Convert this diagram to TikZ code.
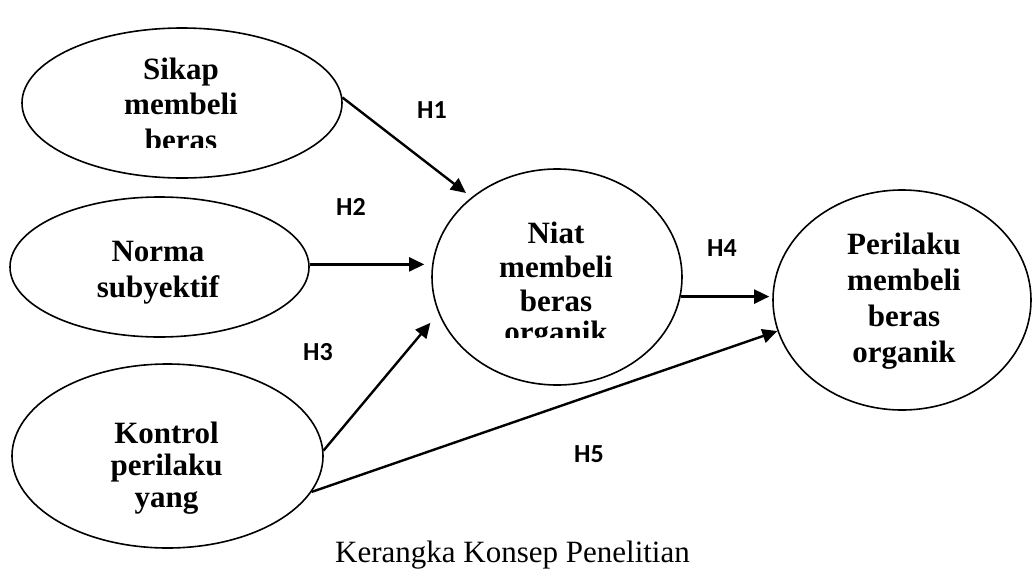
\documentclass[tikz,border=0pt]{standalone}
\usepackage{fontspec}
\setmainfont{Liberation Serif}
\newfontfamily\hfont{Carlito}
\usetikzlibrary{arrows.meta,shapes.geometric}
\begin{document}
\begin{tikzpicture}[x=1pt,y=-1pt,
  ell/.style={draw, ellipse, line width=1.6pt, inner sep=0pt},
  txt/.style={font=\bfseries\fontsize{31}{35}\selectfont, anchor=base, inner sep=0pt},
  hyp/.style={font=\hfont\bfseries\fontsize{26}{30}\selectfont, inner sep=0pt},
  arr/.style={line width=2.4pt, -{Triangle[length=15pt,width=14pt]}}]
\useasboundingbox (0,0) rectangle (1033,568);
% ellipses
\node[ell, minimum width=320pt, minimum height=150pt] (A) at (182,103) {};
\node[ell, minimum width=299pt, minimum height=140pt] (B) at (159.5,267) {};
\node[ell, minimum width=311pt, minimum height=184pt] (C) at (167.5,456) {};
\node[ell, minimum width=250pt, minimum height=216pt] (N) at (557,277) {};
\node[ell, minimum width=258pt, minimum height=220pt] (P) at (902,300) {};
% texts
\node[txt] (a1) at (181,79) {Sikap};
\node[txt] (a2) at (181,114) {membeli};
\begin{scope}
  \clip (90,120) rectangle (280,147);
  \node[txt] (a3) at (181,150) {beras};
\end{scope}
\node[txt] (b1) at (158,261) {Norma};
\node[txt] (b2) at (158,297) {subyektif};
\node[txt] (c1) at (166.5,443) {Kontrol};
\node[txt] (c2) at (166.5,475) {perilaku};
\node[txt] (c3) at (166.5,507) {yang};
\node[txt] (n1) at (556,243) {Niat};
\node[txt] (n2) at (556,277) {membeli};
\node[txt] (n3) at (556,311) {beras};
\begin{scope}
  \clip (460,315) rectangle (660,337);
  \node[txt] (n4) at (556,342) {organik};
\end{scope}
\node[txt] (p1) at (904,254) {Perilaku};
\node[txt] (p2) at (904,290) {membeli};
\node[txt] (p3) at (904,326) {beras};
\node[txt] (p4) at (904,362) {organik};
% arrows
\draw[arr, shorten >=7pt] (A.2) -- (N.137);
\draw[arr, shorten >=7pt] (B.1) -- (B.1 -| N.west);
\draw[arr, shorten >=12.5pt] (C.2) -- (N.197);
\draw[arr, shorten >=3pt] (N.-9.2) -- (N.-9.2 -| P.west);
\draw[arr] (C.-14.6) -- (P.194.6);
% labels
\node[hyp] (h1) at (432,110) {H1};
\node[hyp] (h2) at (351,207) {H2};
\node[hyp] (h3) at (318,352) {H3};
\node[hyp] (h4) at (722,248) {H4};
\node[hyp] (h5) at (589,454) {H5};
% caption
\node[font=\fontsize{31}{35}\selectfont, anchor=base, inner sep=0pt] (cap) at (512.5,562) {Kerangka Konsep Penelitian};
\end{tikzpicture}
\end{document}
